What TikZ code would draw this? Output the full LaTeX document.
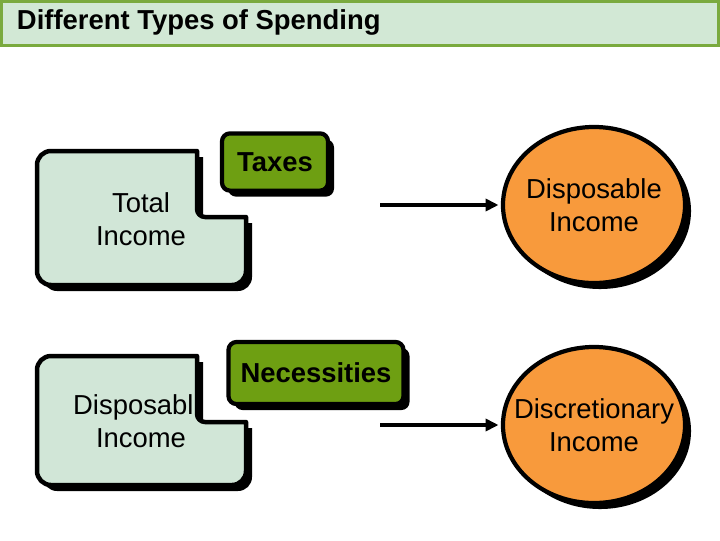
\documentclass[tikz,border=0pt]{standalone}
\usepackage{fontspec}
\setmainfont{Liberation Sans}
\usetikzlibrary{arrows.meta,shapes.geometric}

\definecolor{titlegreen}{HTML}{D2E8D5}
\definecolor{framegreen}{HTML}{7AAA3E}
\definecolor{paleaqua}{HTML}{D1E6D7}
\definecolor{leafgreen}{HTML}{6E9F12}
\definecolor{pumpkin}{HTML}{F89A3C}

\tikzset{
  dropped/.style={preaction={fill=black, transform canvas={xshift=0.15cm, yshift=-0.15cm}}},
  incomebox/.style={dropped, fill=paleaqua, draw=black, line width=3.2pt, line join=round},
  incometext/.style={align=center},
  costbox/.style={dropped, rectangle, rounded corners=0.2cm, fill=leafgreen, draw=black,
    line width=3pt, font=\bfseries\fontsize{19.5}{23.5}\selectfont},
  resultbox/.style={dropped, ellipse, fill=pumpkin, draw=black, line width=3pt,
    minimum width=4.55cm, minimum height=3.9cm, inner xsep=-0.5cm, inner ysep=0pt, align=center},
  flow/.style={-{Triangle[length=0.32cm,width=0.3cm]}, line width=2.6pt, shorten >=0.06cm}
}

\begin{document}
\begin{tikzpicture}[x=0.025cm, y=-0.025cm,
  every node/.style={font=\fontsize{19.5}{23.5}\selectfont}]
  \useasboundingbox (0,0) rectangle (720,540);

  \draw[framegreen, fill=titlegreen, line width=2.2pt] (1.5,1.5) rectangle (718.5,45.5);
  \node[anchor=base west, font=\bfseries\fontsize{19.5}{23}\selectfont] (title) at (12,29)
    {Different Types of Spending};

  \draw[incomebox] (246,217) [rounded corners=0.35cm] -- (246,285) -- (37,285) -- (37,151)
    [sharp corners] -- (197,151) [rounded corners=0.2cm] -- (197,217) [sharp corners] -- cycle;
  \draw[incomebox] (246,422) [rounded corners=0.35cm] -- (246,485) -- (37,485) -- (37,356)
    [sharp corners] -- (197,356) [rounded corners=0.2cm] -- (197,422) [sharp corners] -- cycle;

  \node[incometext] (total) at (141,219) {Total\\Income};
  \node[incometext] (dispin) at (141,421) {Disposabl\phantom{e}\\Income};

  \node[costbox, minimum width=2.65cm, minimum height=1.43cm] (taxes) at (275,162) {Taxes};
  \node[costbox, minimum width=4.375cm, minimum height=1.55cm] (needs) at (316,373) {Necessities};

  \node[resultbox] (disp) at (594,205) {Disposable\\Income};
  \node[resultbox] (discr) at (594,425) {Discretionary\\Income};

  \coordinate (from1) at (380,205);
  \coordinate (from2) at (380,425);
  \draw[flow] (from1) -- (disp);
  \draw[flow] (from2) -- (discr);
\end{tikzpicture}
\end{document}
